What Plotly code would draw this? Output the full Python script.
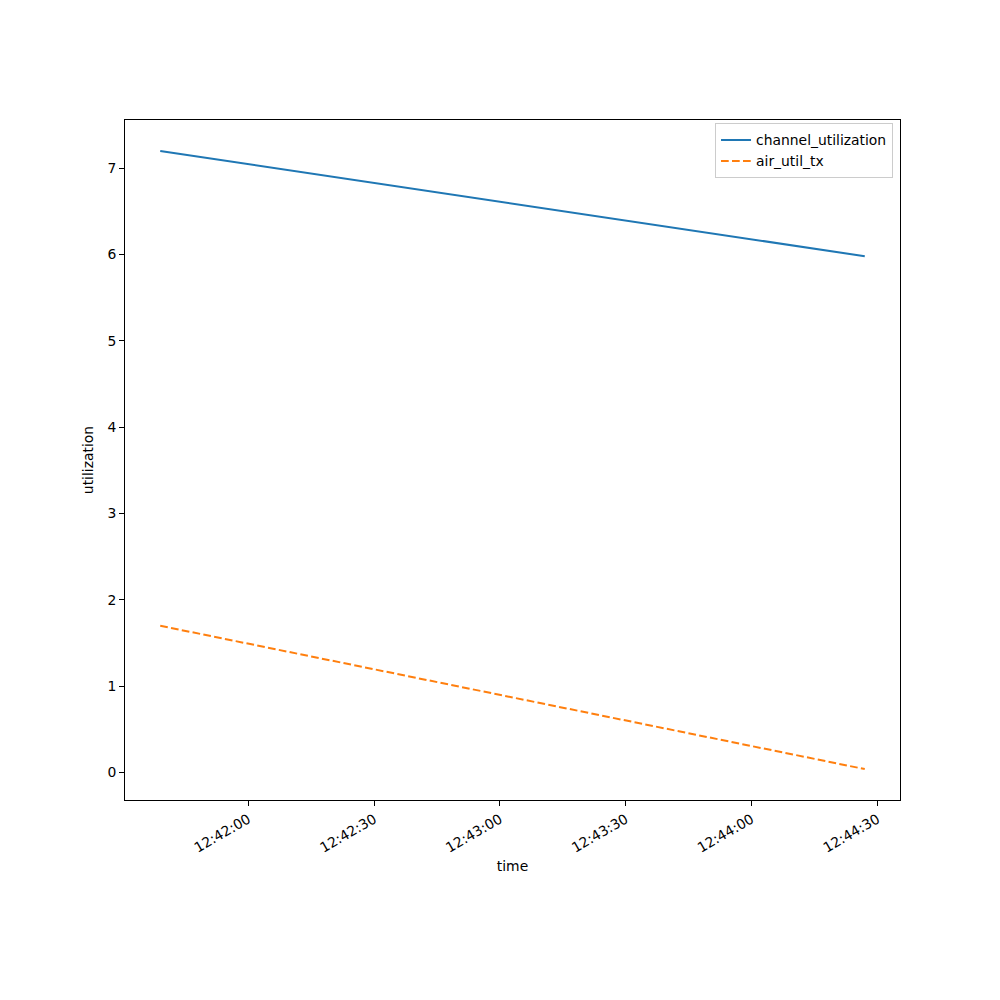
import plotly.graph_objects as go

times = ["2024-01-01 12:41:39", "2024-01-01 12:44:27"]
channel_utilization = [7.20, 5.98]
air_util_tx = [1.70, 0.04]
y_ticks = [0, 1, 2, 3, 4, 5, 6, 7]

font = dict(family="DejaVu Sans", size=13.9, color="black")

fig = go.Figure()
fig.add_trace(go.Scatter(x=times, y=channel_utilization, mode="lines",
                         name="channel_utilization",
                         line=dict(color="#1f77b4", width=2)))
fig.add_trace(go.Scatter(x=times, y=air_util_tx, mode="lines",
                         name="air_util_tx",
                         line=dict(color="#ff7f0e", width=2, dash="7.7px,3.3px")))

fig.update_layout(
    width=1000, height=1000,
    margin=dict(l=117, r=108, t=112, b=208),
    paper_bgcolor="white", plot_bgcolor="white",
    font=font,
    showlegend=True,
    legend=dict(x=0.991, y=0.995, xanchor="right", yanchor="top",
                bgcolor="rgba(255,255,255,0.8)", bordercolor="#cccccc", borderwidth=1,
                font=font, tracegroupgap=0, itemwidth=30),
    xaxis=dict(
        title=dict(text="time", font=font, standoff=6),
        range=["2024-01-01 12:41:30.6", "2024-01-01 12:44:35.4"],
        tickformat="%H:%M:%S", dtick=30000, tick0="2024-01-01 12:42:00",
        tickangle=-30, ticks="outside", ticklen=5, tickcolor="black",
        showline=True, mirror=True, linecolor="black", linewidth=1,
        showgrid=False, zeroline=False, tickfont=font,
    ),
    yaxis=dict(
        title=dict(text="utilization", font=font, standoff=10),
        range=[-0.318, 7.558],
        tickvals=y_ticks,
        ticks="outside", ticklen=5, tickcolor="black",
        showline=True, mirror=True, linecolor="black", linewidth=1,
        showgrid=False, zeroline=False, tickfont=font,
    ),
)

fig.write_html("out.html")
